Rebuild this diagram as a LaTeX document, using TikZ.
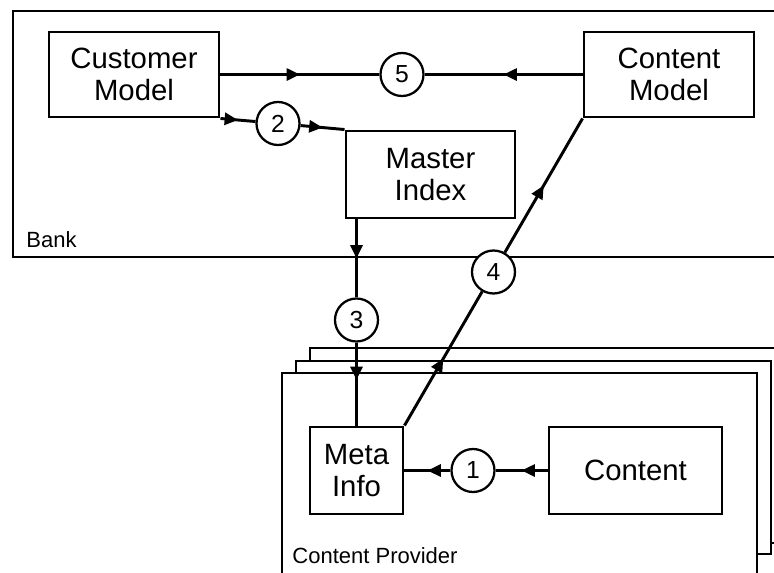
\documentclass[tikz,border=0pt]{standalone}
\usepackage{fontspec}
\setmainfont{Liberation Sans}
\usetikzlibrary{arrows.meta,decorations.markings}

\begin{document}
\begin{tikzpicture}[%
	x=0.75pt, y=-0.75pt,
	line width=2.2pt,
	box/.style = {shape=rectangle,draw,fill=white,align=center,inner sep=0pt,
		font=\fontsize{22pt}{24pt}\selectfont},
	badge/.style = {shape=circle,draw,fill=white,line width=1.7pt,inner sep=0pt,
		minimum size=32.25pt,font=\fontsize{18.5pt}{18pt}\selectfont},
	frame/.style = {draw,fill=white},
	caption/.style = {inner sep=0pt,anchor=base west,font=\fontsize{16.5pt}{18pt}\selectfont},
	midarrow/.style = {postaction={decorate},decoration={markings,
		mark=at position #1 with {\arrow{Triangle[length=10pt,width=9pt]}}}},
	midarrow/.default=0.5
	]
  \clip (0,0) rectangle (774,572);
  \useasboundingbox (0,0) rectangle (774,572);
  % bank and the stacked providers
  \draw (13,11) rectangle (800,257);
  \draw[frame] (310,348) rectangle (790,543);
  \draw[frame] (296,361) rectangle (771,554);
  \draw[frame] (282,373) rectangle (757,600);
  \node[caption] (bank) at (25,247) {Bank};
  \node[caption] (provider) at (291,563) {Content Provider};

  \node[box, minimum width=127.5pt, minimum height=63.75pt] (cust) at (134,74.5) {Customer\\Model};
  \node[box, minimum width=127.5pt, minimum height=63.75pt] (cmodel) at (669,74.5) {Content\\Model};
  \node[box, minimum width=126.75pt, minimum height=65.25pt] (master) at (430.5,174.5) {Master\\Index};
  \node[box, minimum width=69.75pt, minimum height=65.25pt] (meta) at (356.5,470.5) {Meta\\Info};
  \node[box, minimum width=129.75pt, minimum height=65.25pt] (content) at (635.5,470.5) {Content};

  \node[badge] (c1) at (473,470.5) {1};
  \node[badge] (c2) at (278,123.5) {2};
  \node[badge] (c3) at (356.5,320) {3};
  \node[badge] (c4) at (493.5,272) {4};
  \node[badge] (c5) at (402,74.5) {5};

  \draw[midarrow] (content.west) -- (c1);
  \draw[midarrow] (c1) -- (meta.east);
  \draw[midarrow] (cust.south east) -- (c2);
  \draw[midarrow] (c2) -- (master.north west);
  \draw[midarrow] (meta.north |- master.south) -- (c3);
  \draw[midarrow=0.45] (c3) -- (meta.north);
  \draw[midarrow] (meta.north east) -- (c4);
  \draw[midarrow] (c4) -- (cmodel.south west);
  \draw[midarrow] (cust.east) -- (c5);
  \draw[midarrow] (cmodel.west) -- (c5);
\end{tikzpicture}
\end{document}
